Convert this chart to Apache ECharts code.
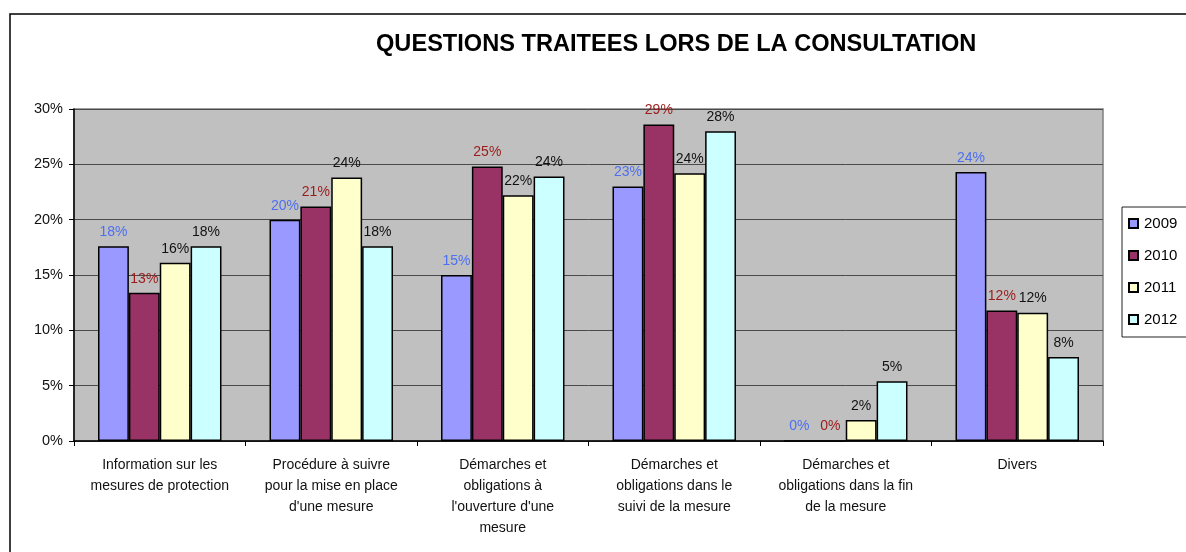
<!DOCTYPE html>
<html>
<head>
<meta charset="utf-8">
<script src="https://cdn.jsdelivr.net/npm/echarts@6/dist/echarts.min.js"></script>
<style>
  html, body { margin: 0; padding: 0; background: #fff; }
  #chart { width: 1186px; height: 552px; }
</style>
</head>
<body>
<div id="chart"></div>
<script>
// categories (x axis)
var categories = [
  'Information sur les\nmesures de protection',
  'Procédure à suivre\npour la mise en place\nd\'une mesure',
  'Démarches et\nobligations à\nl\'ouverture d\'une\nmesure',
  'Démarches et\nobligations dans le\nsuivi de la mesure',
  'Démarches et\nobligations dans la fin\nde la mesure',
  'Divers'
]
var years = ['2009', '2010', '2011', '2012']

// values in percent
var v2009 = [17.6, 20.0, 15.0, 23.0, 0, 24.3]
var v2010 = [13.4, 21.2, 24.8, 28.6, 0, 11.8]
var v2011 = [16.1, 23.8, 22.2, 24.2, 1.9, 11.6]
var v2012 = [17.6, 17.6, 23.9, 28.0, 5.4, 7.6]

var yTicks = [0, 5, 10, 15, 20, 25, 30]

var fillColors = ['#9999FF', '#993366', '#FFFFCC', '#CCFFFF']
var labelColors = ['#4D6FF0', '#9B1B1B', '#111111', '#111111']
var font = "'Liberation Sans', Arial, sans-serif"

const myChart = echarts.init(document.querySelector('#chart'))

function makeSeries(name, data, i) {
  return {
    name: name,
    type: 'bar',
    data: data,
    barGap: '0%',
    barCategoryGap: '28%',
    itemStyle: { color: fillColors[i], borderColor: '#000', borderWidth: 1.5 },
    label: {
      show: true,
      position: 'top',
      distance: 7,
      color: labelColors[i],
      fontSize: 14,
      fontFamily: font,
      formatter: (p) => Math.round(p.value) + '%'
    }
  }
}

option = {
  animation: false,
  backgroundColor: '#fff',
  title: {
    text: 'QUESTIONS TRAITEES LORS DE LA CONSULTATION',
    left: 371,
    top: 27,
    textStyle: { fontSize: 23.6, fontWeight: 'bold', color: '#000', fontFamily: font }
  },
  graphic: [{
    type: 'rect',
    shape: { x: 10, y: 14, width: 1300, height: 700 },
    style: { fill: null, stroke: '#000', lineWidth: 1.5 },
    silent: true
  }],
  legend: {
    orient: 'vertical',
    left: 1122,
    top: 207,
    data: years,
    icon: 'rect',
    itemWidth: 9,
    itemHeight: 9,
    itemGap: 17,
    padding: [9, 40, 10, 6],
    borderColor: '#222',
    borderWidth: 1,
    backgroundColor: '#fff',
    textStyle: { fontSize: 15, color: '#000', fontFamily: font, padding: [0, 0, 0, 1] }
  },
  grid: {
    left: 74,
    top: 109,
    right: 83,
    bottom: 111,
    show: true,
    backgroundColor: '#C0C0C0',
    borderColor: '#808080',
    borderWidth: 1.5
  },
  xAxis: {
    type: 'category',
    data: categories,
    axisLine: { lineStyle: { color: '#000', width: 1.5 } },
    axisTick: { show: true, length: 5, lineStyle: { color: '#000' } },
    axisLabel: {
      interval: 0,
      margin: 14,
      fontSize: 14,
      lineHeight: 21,
      color: '#111',
      fontFamily: font
    }
  },
  yAxis: {
    type: 'value',
    min: yTicks[0],
    max: yTicks[yTicks.length - 1],
    interval: yTicks[1] - yTicks[0],
    axisLine: { show: true, lineStyle: { color: '#000', width: 1.5 } },
    axisTick: { show: true, length: 5, lineStyle: { color: '#000' } },
    axisLabel: { formatter: '{value}%', fontSize: 14.5, color: '#111', margin: 11, fontFamily: font },
    splitLine: { lineStyle: { color: '#4a4a4a', width: 1 } }
  },
  series: [
    makeSeries(years[0], v2009, 0),
    makeSeries(years[1], v2010, 1),
    makeSeries(years[2], v2011, 2),
    makeSeries(years[3], v2012, 3)
  ]
}
myChart.setOption(option)
</script>
</body>
</html>
